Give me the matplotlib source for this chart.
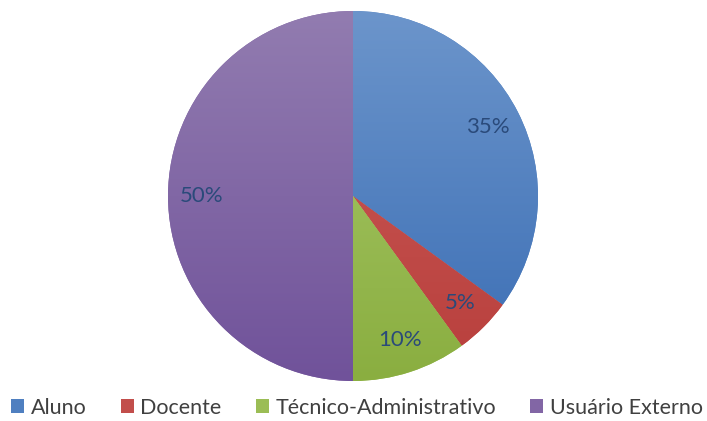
import matplotlib.pyplot as plt
import numpy as np
from matplotlib.colors import LinearSegmentedColormap
from matplotlib.patches import Patch

labels = ['Aluno', 'Docente', 'Técnico-Administrativo', 'Usuário Externo']
values = [35, 5, 10, 50]
top_colors = ['#6C95CB', '#CD5D5A', '#AACA6C', '#927CB0']
bottom_colors = ['#3A6DB4', '#B83F3C', '#8AAE40', '#70529A']
mid_colors = ['#4F7FC0', '#C24E4B', '#9BBD55', '#8266A5']

plt.rcParams['font.family'] = ['Lato', 'DejaVu Sans']

fig = plt.figure(figsize=(7.07, 4.21), dpi=100)
ax = fig.add_axes([168 / 707, 40 / 421, 370 / 707, 370 / 421])

wedges, texts, autotexts = ax.pie(
    values, startangle=90, counterclock=False, colors=mid_colors,
    autopct='%1.0f%%', pctdistance=0.82,
    textprops=dict(color='#2A4A7A', fontsize=16))

grad = np.linspace(1, 0, 256).reshape(-1, 1)
for w, c0, c1 in zip(wedges, top_colors, bottom_colors):
    cmap = LinearSegmentedColormap.from_list('g', [c1, c0])
    im = ax.imshow(grad, cmap=cmap, extent=(-1, 1, -1, 1), aspect='auto',
                   origin='upper', zorder=w.get_zorder() + 0.1)
    im.set_clip_path(w)
    w.set_edgecolor('none')
for t in autotexts:
    t.set_zorder(5)

ax.set_xlim(-1.0, 1.0)
ax.set_ylim(-1.0, 1.0)
ax.set_aspect('equal')
ax.axis('off')

handles = [Patch(facecolor=c, edgecolor='none') for c in mid_colors]
fig.legend(handles, labels, loc='lower center', ncol=4, frameon=False,
           bbox_to_anchor=(0.505, -0.038), fontsize=15.5, handlelength=0.6,
           handleheight=0.6, handletextpad=0.3, columnspacing=1.6,
           labelcolor='#404040')

fig.savefig('out.png', dpi=100)
